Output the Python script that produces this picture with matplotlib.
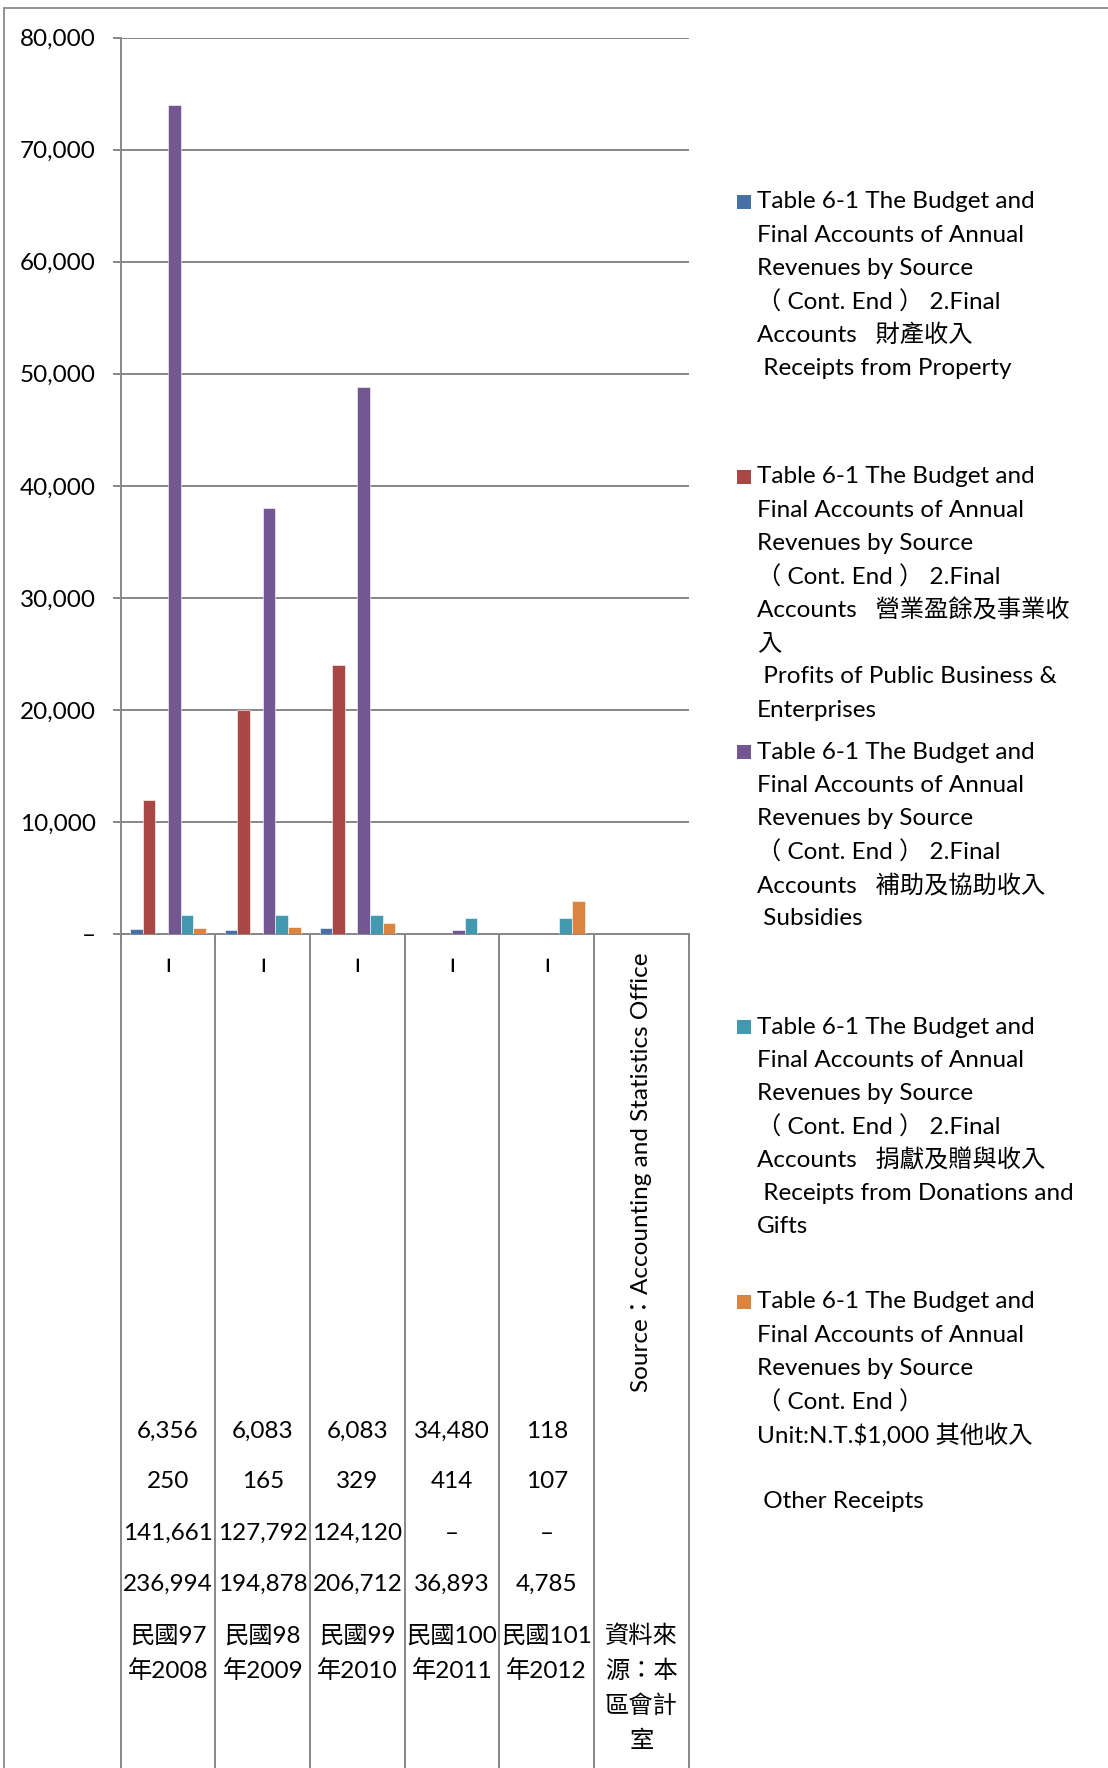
import matplotlib
matplotlib.use("Agg")
import matplotlib.pyplot as plt
import matplotlib.patches as mpatches
import matplotlib.transforms as mtransforms
from matplotlib.ticker import FuncFormatter, MultipleLocator
import numpy as np

plt.rcParams['font.family'] = ['Lato', 'Noto Sans CJK TC', 'DejaVu Sans']

# ---------------------------------------------------------------------------
# Data (NT$1,000)
# ---------------------------------------------------------------------------
top_labels = ["–", "–", "–", "–", "–", "Source：Accounting and Statistics Office"]
row_1 = ["6,356", "6,083", "6,083", "34,480", "118", ""]
row_2 = ["250", "165", "329", "414", "107", ""]
row_3 = ["141,661", "127,792", "124,120", "–", "–", ""]
row_4 = ["236,994", "194,878", "206,712", "36,893", "4,785", ""]
years = ["民國97\n年2008", "民國98\n年2009", "民國99\n年2010",
         "民國100\n年2011", "民國101\n年2012", "資料來\n源：本\n區會計\n室"]

property_rcpt = [450, 360, 500, 0, 0, 0]
profits = [12000, 20000, 24000, 0, 0, 0]
subsidies = [74000, 38000, 48800, 330, 0, 0]
donations = [1660, 1660, 1660, 1430, 1430, 0]
other_rcpt = [565, 655, 1010, 30, 2920, 0]

head = ["Table 6-1 The Budget and", "Final Accounts of Annual",
        "Revenues by Source"]
legend_lines = [
    head + ["（ Cont. End ） 2.Final", "Accounts   財產收入",
            " Receipts from Property"],
    head + ["（ Cont. End ） 2.Final", "Accounts   營業盈餘及事業收", "入",
            " Profits of Public Business &", "Enterprises"],
    head + ["（ Cont. End ） 2.Final", "Accounts   補助及協助收入",
            " Subsidies"],
    head + ["（ Cont. End ） 2.Final", "Accounts   捐獻及贈與收入",
            " Receipts from Donations and", "Gifts"],
    head + ["（ Cont. End ）", "Unit:N.T.$1,000 其他收入", "",
            " Other Receipts"],
]

series = [property_rcpt, profits, subsidies, donations, other_rcpt]
colors = ["#4771A6", "#A94745", "#725791", "#4399B0", "#DA843F"]
slots = [0, 1, 3, 4, 5]   # slot 2 is an empty series in the source chart

# ---------------------------------------------------------------------------
# Layout (pixels)
# ---------------------------------------------------------------------------
W, H, DPI = 1108, 1768, 100
AX_L, AX_R = 120.7, 688.7
AX_T, AX_B = 37.7, 934.0
FS = 17.5
GRID = "#878787"

fig = plt.figure(figsize=(W / DPI, H / DPI), dpi=DPI)
fig.patch.set_facecolor("white")
ax = fig.add_axes([AX_L / W, 1 - AX_B / H, (AX_R - AX_L) / W, (AX_B - AX_T) / H])

# outer chart border
fig.patches.append(mpatches.Rectangle(
    (4.3 / W, -0.1), 1.3, 1 - 8.3 / H + 0.1, transform=fig.transFigure,
    fill=False, edgecolor="#8a8a8a", linewidth=1.3))

x = np.arange(len(years))
bw = 1 / 7.5
for vals, col, s in zip(series, colors, slots):
    ax.bar(x + (s - 2.5) * bw, vals, width=bw, color=col,
           edgecolor="white", linewidth=0.4, zorder=3)

ax.set_xlim(-0.5, len(years) - 0.5)
ax.set_ylim(0, 80000)
ax.yaxis.set_major_locator(MultipleLocator(10000))
ax.yaxis.set_major_formatter(FuncFormatter(lambda v, p: "–" if v == 0 else f"{v:,.0f}"))
ax.grid(axis="y", color=GRID, linewidth=1.4, zorder=0)
ax.set_axisbelow(True)
for sp in ["top", "right"]:
    ax.spines[sp].set_visible(False)
for sp in ["left", "bottom"]:
    ax.spines[sp].set_color(GRID)
    ax.spines[sp].set_linewidth(1.4)
ax.tick_params(axis="y", length=6, width=1.4, color=GRID, pad=12,
               labelsize=FS, labelcolor="black")
bounds = np.arange(-0.5, len(years), 1.0)
ax.set_xticks(bounds)
ax.set_xticklabels([])
ax.tick_params(axis="x", length=4, width=1.4, color=GRID)

# category separators below the axis
for b in bounds:
    ax.plot([b, b], [0, -1.0], transform=ax.get_xaxis_transform(),
            color=GRID, linewidth=1.4, clip_on=False, zorder=1)

# multi-level category labels
tr = mtransforms.blended_transform_factory(ax.transData, fig.transFigure)
fy = lambda px: 1 - px / H
for i in range(len(years)):
    ax.text(x[i], fy(952), top_labels[i], rotation=90, ha="center", va="top",
            fontsize=FS if i == len(years) - 1 else 24, transform=tr)
    for lab, ypx in zip([row_1[i], row_2[i], row_3[i], row_4[i]],
                        [1431, 1482, 1533, 1584]):
        ax.text(x[i], fy(ypx), lab, ha="center", va="center",
                fontsize=FS, transform=tr)
    for k, ln in enumerate(years[i].split("\n")):
        ax.text(x[i], fy(1636 + k * 35), ln, ha="center", va="center",
                fontsize=FS, transform=tr)

# legend
LX_BOX, LX_TXT = 737, 757
for n, lines in enumerate(legend_lines):
    y0 = 202 + n * 275
    fig.patches.append(mpatches.Rectangle(
        (LX_BOX / W, fy(y0 + 7)), 14 / W, 14 / H,
        transform=fig.transFigure, facecolor=colors[n], edgecolor="none"))
    for k, ln in enumerate(lines):
        fig.text(LX_TXT / W, fy(y0 + k * 33.3), ln, ha="left", va="center",
                 fontsize=FS)

plt.savefig("out.png", dpi=DPI, facecolor=fig.get_facecolor())
